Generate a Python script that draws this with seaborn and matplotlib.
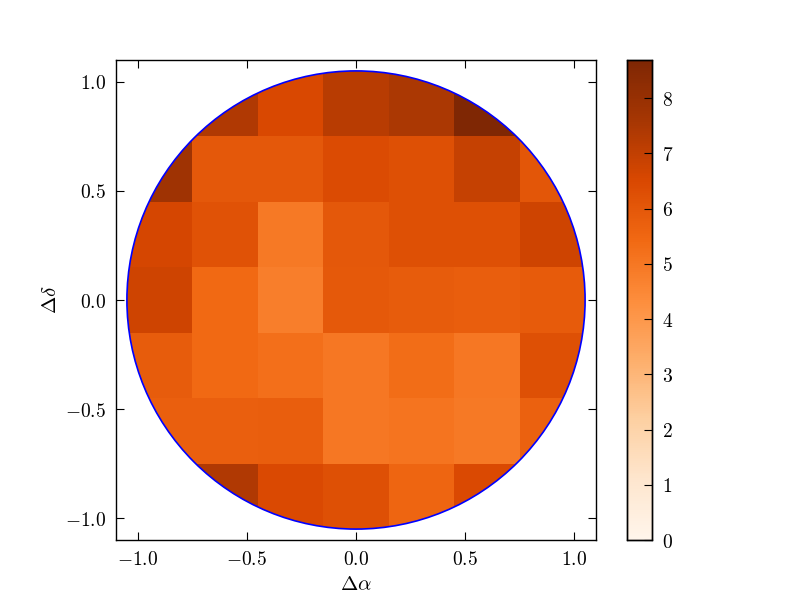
import matplotlib
matplotlib.use("Agg")
import matplotlib.pyplot as plt
import matplotlib.patches as mpatches
import matplotlib.transforms as mtransforms
from matplotlib.ticker import FuncFormatter
import seaborn as sns
import numpy as np

# cell grid: 7x7 bins from -1.05 to 1.05, rows listed top (dec high) to bottom
edge_lo = -1.05
cell_size = 0.3
row_labels = ["0.90", "0.60", "0.30", "0.00", "-0.30", "-0.60", "-0.90"]
col_labels = ["-0.90", "-0.60", "-0.30", "0.00", "0.30", "0.60", "0.90"]

row0 = [np.nan, 7.40, 6.50, 7.20, 7.50, 8.69, np.nan]
row1 = [7.80, 6.00, 6.00, 6.40, 6.25, 6.95, 6.05]
row2 = [6.60, 6.20, 4.95, 6.00, 6.25, 6.25, 6.75]
row3 = [6.75, 5.40, 4.80, 5.95, 5.85, 5.80, 5.90]
row4 = [5.85, 5.40, 5.25, 5.00, 5.30, 5.00, 6.25]
row5 = [5.75, 5.75, 5.80, 5.00, 5.10, 4.95, 5.70]
row6 = [np.nan, 7.40, 6.45, 6.25, 5.55, 6.45, np.nan]

circle_radius = 1.05
vmin, vmax = 0.0, 8.69

grid = np.array([row0, row1, row2, row3, row4, row5, row6])

plt.rcParams["mathtext.fontset"] = "cm"
plt.rcParams["font.size"] = 12

fig = plt.figure(figsize=(8, 6), dpi=100)
ax = fig.add_axes([0.145, 0.1, 0.6, 0.8])
cax = fig.add_axes([0.784, 0.1, 0.031, 0.8])

# flip so the first row of the passed array sits at the bottom (y increasing up)
sns.heatmap(np.flipud(grid), ax=ax, cbar_ax=cax, cmap="Oranges",
            vmin=vmin, vmax=vmax, xticklabels=False, yticklabels=False)

mesh = ax.collections[0]
to_data = mtransforms.Affine2D().scale(cell_size).translate(edge_lo, edge_lo)
mesh.set_transform(to_data + ax.transData)

circ = mpatches.Circle((0, 0), circle_radius, transform=ax.transData,
                       facecolor="none", edgecolor="blue", lw=1.2, zorder=3)
ax.add_patch(circ)
mesh.set_clip_path(circ)

ax.set_xlim(-1.1, 1.1)
ax.set_ylim(-1.1, 1.1)
ax.set_aspect("auto")
ticks = [-1.0, -0.5, 0.0, 0.5, 1.0]
ax.set_xticks(ticks)
ax.set_yticks(ticks)
fmt = FuncFormatter(lambda v, p: f"${v:.1f}$")
ax.xaxis.set_major_formatter(fmt)
ax.yaxis.set_major_formatter(fmt)
ax.tick_params(direction="in", top=True, right=True, length=6, labelsize=14,
               pad=7, labelbottom=True, labelleft=True)
for s in ax.spines.values():
    s.set_visible(True)
    s.set_linewidth(1.0)
    s.set_color("black")
ax.set_xlabel(r"$\Delta\alpha$", fontsize=15)
ax.set_ylabel(r"$\Delta\delta$", fontsize=15)

cax.set_yticks(range(0, 9))
cax.yaxis.set_major_formatter(FuncFormatter(lambda v, p: f"${int(v)}$"))
cax.tick_params(direction="in", length=6, labelsize=14, pad=7)
for s in cax.spines.values():
    s.set_visible(True)
    s.set_linewidth(1.0)
    s.set_color("black")

fig.savefig("out.png", dpi=100)
